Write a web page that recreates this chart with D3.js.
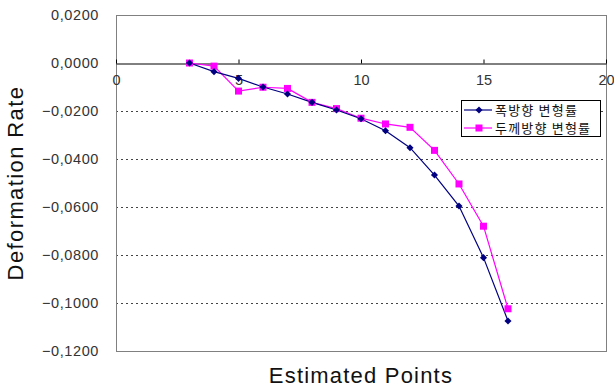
<!DOCTYPE html>
<html>
<head>
<meta charset="utf-8">
<script src="https://cdn.jsdelivr.net/npm/d3@7"></script>
<style>
  html, body { margin: 0; padding: 0; background: #fff; }
  svg { display: block; }
</style>
</head>
<body>
<svg id="chart" width="614" height="387"></svg>
<script>
// Measurement points along the specimen
const points = [3, 4, 5, 6, 7, 8, 9, 10, 11, 12, 13, 14, 15, 16];
// Width-direction deformation rate (폭방향 변형률)
const widthRate = [0, -0.0036, -0.0064, -0.0100, -0.0129, -0.0164, -0.0196, -0.0232, -0.0282, -0.0353, -0.0467, -0.0596, -0.0811, -0.1075];
// Thickness-direction deformation rate (두께방향 변형률)
const thickRate = [0, -0.0013, -0.0117, -0.0101, -0.0106, -0.0164, -0.0190, -0.0230, -0.0254, -0.0268, -0.0364, -0.0504, -0.0680, -0.1024];

const xTicks = [0, 5, 10, 15, 20];
const yTicks = [0.02, 0, -0.02, -0.04, -0.06, -0.08, -0.10, -0.12];
const gridTicks = [-0.02, -0.04, -0.06, -0.08, -0.10];
const seriesNames = ["폭방향 변형률", "두께방향 변형률"];

const svg = d3.select("#chart");
const plotLeft = 116, plotRight = 606, plotTop = 15, plotBottom = 351;

const x = d3.scaleLinear().domain([0, 20]).range([plotLeft, plotRight]);
const y = d3.scaleLinear().domain([-0.12, 0.02]).range([plotBottom, plotTop]);

const fmt = v => d3.format(".4f")(v).replace(".", ",");

// dashed horizontal gridlines
svg.append("g")
  .selectAll("line")
  .data(gridTicks)
  .join("line")
  .attr("x1", plotLeft).attr("x2", plotRight)
  .attr("y1", d => Math.round(y(d)) + 0.5).attr("y2", d => Math.round(y(d)) + 0.5)
  .attr("stroke", "#444").attr("stroke-width", 1)
  .attr("stroke-dasharray", "2,3");

// plot frame
svg.append("rect")
  .attr("x", plotLeft + 0.5).attr("y", plotTop + 0.5)
  .attr("width", plotRight - plotLeft).attr("height", plotBottom - plotTop)
  .attr("fill", "none").attr("stroke", "#808080").attr("stroke-width", 1);

// y axis labels
const yAxis = d3.axisLeft(y).tickValues(yTicks).tickFormat(fmt).tickSize(0).tickPadding(17);
const gy = svg.append("g").attr("transform", `translate(${plotLeft},0)`).call(yAxis);
gy.select(".domain").remove();
gy.selectAll("text")
  .attr("font-family", "'Liberation Sans', Arial, sans-serif")
  .attr("font-size", 14.5).attr("letter-spacing", 0.6).attr("fill", "#333");

// x axis drawn along the zero line, ticks pointing up, labels below
const xAxis = d3.axisBottom(x).tickValues(xTicks).tickFormat(d3.format("d")).tickSize(0).tickPadding(11);
const gx = svg.append("g").attr("transform", `translate(0,${Math.round(y(0)) + 0.5})`).call(xAxis);
gx.select(".domain").attr("stroke", "#000");
gx.selectAll(".tick line").attr("y2", -4).attr("stroke", "#000");
gx.selectAll("text")
  .attr("font-family", "'Liberation Sans', Arial, sans-serif")
  .attr("font-size", 14.5).attr("fill", "#333");

// series
const line = d3.line().x((d, i) => x(points[i])).y(d => y(d));

svg.append("path").datum(thickRate)
  .attr("d", line).attr("fill", "none")
  .attr("stroke", "#ff00ff").attr("stroke-width", 1.2);

svg.append("path").datum(widthRate)
  .attr("d", line).attr("fill", "none")
  .attr("stroke", "#000080").attr("stroke-width", 1.2);

const diamond = d3.symbol().type(d3.symbolDiamond2).size(32);

svg.append("g").selectAll("rect")
  .data(thickRate)
  .join("rect")
  .attr("x", (d, i) => x(points[i]) - 3.5).attr("y", d => y(d) - 3.5)
  .attr("width", 7).attr("height", 7)
  .attr("fill", "#ff00ff");

svg.append("g").selectAll("path")
  .data(widthRate)
  .join("path")
  .attr("d", diamond)
  .attr("transform", (d, i) => `translate(${x(points[i])},${y(d)})`)
  .attr("fill", "#000080");

// legend
const lg = svg.append("g").attr("transform", "translate(461,100)");
lg.append("rect").attr("x", 0.5).attr("y", 0.5).attr("width", 139).attr("height", 36)
  .attr("fill", "#fff").attr("stroke", "#000").attr("stroke-width", 1);
const colors = ["#000080", "#ff00ff"];
seriesNames.forEach((name, i) => {
  const ry = 10 + i * 18;
  lg.append("line").attr("x1", 3).attr("x2", 31).attr("y1", ry).attr("y2", ry)
    .attr("stroke", colors[i]).attr("stroke-width", 1.2);
  if (i === 0) {
    lg.append("path").attr("d", diamond).attr("transform", `translate(18,${ry})`).attr("fill", colors[i]);
  } else {
    lg.append("rect").attr("x", 14.5).attr("y", ry - 3.5).attr("width", 7).attr("height", 7).attr("fill", colors[i]);
  }
  lg.append("text").attr("x", 34).attr("y", ry + 4.5)
    .attr("font-family", "'Noto Sans CJK KR', sans-serif")
    .attr("font-size", 13).attr("letter-spacing", 1.2).attr("fill", "#111").text(name);
});

// axis titles
svg.append("text")
  .attr("x", (plotLeft + plotRight) / 2).attr("y", 383)
  .attr("text-anchor", "middle")
  .attr("font-family", "'Liberation Sans', Arial, sans-serif")
  .attr("font-size", 22).attr("letter-spacing", 1.2).attr("fill", "#111")
  .text("Estimated Points");

svg.append("text")
  .attr("transform", "translate(23,183) rotate(-90)")
  .attr("text-anchor", "middle")
  .attr("font-family", "'Liberation Sans', Arial, sans-serif")
  .attr("font-size", 22).attr("letter-spacing", 1.4).attr("fill", "#111")
  .text("Deformation Rate");
</script>
</body>
</html>
